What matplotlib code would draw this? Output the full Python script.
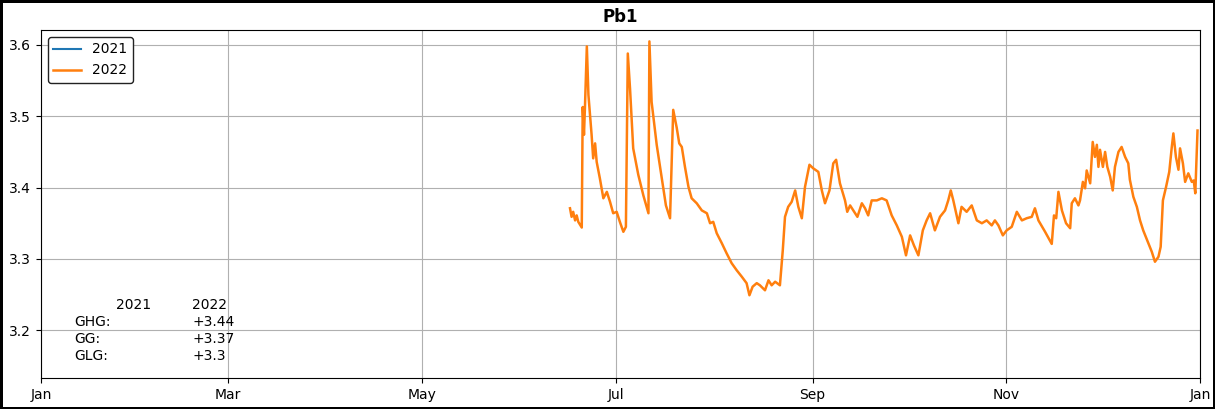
"""Pb1 water level chart, 2021 vs 2022."""

import matplotlib
matplotlib.use("Agg")
import matplotlib.pyplot as plt
import matplotlib.dates as mdates
import numpy as np
import pandas as pd

# days since 1 Jan of the year, and the measured level for 2022
day_2022 = [
    166.6, 167.1, 167.6, 168.2, 168.7, 169.2, 170.3, 170.6, 171.0, 171.3,
    171.9, 172.4, 173.4, 173.9, 174.5, 175.0, 176.0, 177.1, 178.2, 179.2,
    180.2, 181.3, 182.3, 183.4, 184.2, 184.8, 185.5, 186.5, 188.1, 189.7,
    191.3, 191.6, 192.3, 193.9, 195.5, 196.8, 198.1, 199.1, 200.2, 201.0,
    201.8, 202.8, 203.9, 204.9, 206.5, 208.1, 209.7, 210.7, 211.7, 212.8,
    214.4, 215.9, 217.5, 219.1, 220.7, 222.2, 223.1, 224.1, 225.4, 226.4,
    228.0, 229.1, 230.1, 231.2, 232.7, 233.6, 234.3, 235.3, 236.4, 237.5,
    238.5, 239.6, 240.6, 242.0, 243.2, 244.8, 245.9, 246.9, 248.3, 249.5,
    250.4, 251.6, 253.2, 253.9, 254.8, 255.8, 257.1, 258.5, 259.5, 260.5,
    261.6, 263.2, 264.8, 266.3, 267.9, 269.5, 271.1, 272.4, 273.7, 274.9,
    276.3, 277.7, 278.9, 280.0, 281.5, 283.1, 284.7, 285.7, 286.5, 287.3,
    288.9, 289.9, 291.5, 293.1, 294.7, 296.3, 297.8, 299.4, 300.4, 301.5,
    302.9, 304.1, 305.7, 307.3, 308.9, 310.4, 312.0, 313.0, 314.1, 316.2,
    318.3, 319.0, 319.7, 320.4, 321.5, 322.8, 324.1, 324.6, 325.6, 326.7,
    327.2, 328.1, 328.8, 329.3, 330.4, 331.2, 331.9, 332.5, 333.0, 333.5,
    334.4, 335.1, 335.8, 336.7, 337.5, 338.2, 339.3, 340.3, 341.4, 342.4,
    342.9, 344.0, 345.1, 346.1, 347.1, 348.7, 349.8, 350.8, 351.9, 352.6,
    353.3, 354.3, 355.3, 356.1, 356.6, 357.4, 358.2, 358.7, 359.6, 360.3,
    361.3, 362.4, 363.0, 363.5, 364.2,
]
level_2022 = [
    3.371, 3.359, 3.366, 3.354, 3.361, 3.352, 3.344, 3.513, 3.474, 3.512,
    3.598, 3.530, 3.474, 3.441, 3.462, 3.436, 3.413, 3.385, 3.394, 3.380,
    3.364, 3.366, 3.352, 3.338, 3.345, 3.588, 3.539, 3.455, 3.418, 3.389,
    3.364, 3.605, 3.520, 3.460, 3.413, 3.375, 3.357, 3.509, 3.484, 3.462,
    3.457, 3.429, 3.401, 3.385, 3.378, 3.368, 3.364, 3.350, 3.352, 3.336,
    3.322, 3.308, 3.294, 3.284, 3.275, 3.266, 3.249, 3.261, 3.266, 3.263,
    3.256, 3.270, 3.263, 3.268, 3.263, 3.312, 3.359, 3.373, 3.380, 3.396,
    3.373, 3.357, 3.401, 3.432, 3.427, 3.422, 3.396, 3.378, 3.396, 3.434,
    3.439, 3.406, 3.382, 3.366, 3.375, 3.368, 3.359, 3.378, 3.371, 3.361,
    3.382, 3.382, 3.385, 3.382, 3.361, 3.347, 3.331, 3.305, 3.333, 3.319,
    3.305, 3.340, 3.354, 3.364, 3.340, 3.359, 3.368, 3.382, 3.396, 3.382,
    3.350, 3.373, 3.366, 3.375, 3.354, 3.350, 3.354, 3.347, 3.354, 3.347,
    3.333, 3.340, 3.345, 3.366, 3.354, 3.357, 3.359, 3.371, 3.354, 3.338,
    3.321, 3.361, 3.357, 3.394, 3.368, 3.350, 3.343, 3.378, 3.385, 3.375,
    3.382, 3.408, 3.399, 3.424, 3.406, 3.464, 3.443, 3.460, 3.429, 3.453,
    3.429, 3.450, 3.429, 3.415, 3.396, 3.429, 3.450, 3.457, 3.443, 3.434,
    3.411, 3.387, 3.373, 3.354, 3.340, 3.322, 3.310, 3.296, 3.303, 3.317,
    3.382, 3.401, 3.422, 3.457, 3.476, 3.443, 3.425, 3.455, 3.434, 3.408,
    3.420, 3.408, 3.410, 3.392, 3.480,
]

# 2021 has no data in this chart
day_2021 = []
level_2021 = []

stat_rows = ["GHG:", "GG:", "GLG:"]
stats_2021 = ["", "", ""]
stats_2022 = ["+3.44", "+3.37", "+3.3"]


def draw():
    fig = plt.figure(figsize=(12.15, 4.09), dpi=100)
    fig.patch.set_edgecolor("black")
    fig.patch.set_linewidth(2.5)
    ax = fig.add_axes([0.0337, 0.0758, 0.9540, 0.8509])

    base = pd.Timestamp("2022-01-01")
    t21 = base + pd.to_timedelta(np.array(day_2021, dtype=float), unit="D")
    t22 = base + pd.to_timedelta(np.array(day_2022, dtype=float), unit="D")

    ax.plot(t21, level_2021, color="#1f77b4", lw=1.5, label="2021")
    ax.plot(t22, level_2022, color="#ff7f0e", lw=1.8, label="2022")

    ax.set_xlim(base, pd.Timestamp("2023-01-01"))
    ax.set_ylim(3.133, 3.621)
    ax.set_yticks([3.2, 3.3, 3.4, 3.5, 3.6])
    ax.xaxis.set_major_locator(mdates.MonthLocator(bymonth=[1, 3, 5, 7, 9, 11]))
    ax.xaxis.set_major_formatter(mdates.DateFormatter("%b"))
    ax.grid(True, color="#b0b0b0", lw=0.8)

    ax.set_title("Pb1", fontsize=12, fontweight="bold")

    leg = ax.legend(loc="upper left", fontsize=10, framealpha=1, fancybox=True)
    leg.get_frame().set_edgecolor("#222222")

    # small stats table in the lower left corner
    ax.text(0.065, 0.21, "2021", transform=ax.transAxes, fontsize=10, va="center")
    ax.text(0.130, 0.21, "2022", transform=ax.transAxes, fontsize=10, va="center")
    ys = [0.161, 0.112, 0.063]
    for y, name, a, b in zip(ys, stat_rows, stats_2021, stats_2022):
        ax.text(0.029, y, name, transform=ax.transAxes, fontsize=10, va="center")
        ax.text(0.065, y, a, transform=ax.transAxes, fontsize=10, va="center")
        ax.text(0.131, y, b, transform=ax.transAxes, fontsize=10, va="center")

    fig.savefig("out.png", dpi=100)
    plt.close(fig)


if __name__ == "__main__":
    draw()
